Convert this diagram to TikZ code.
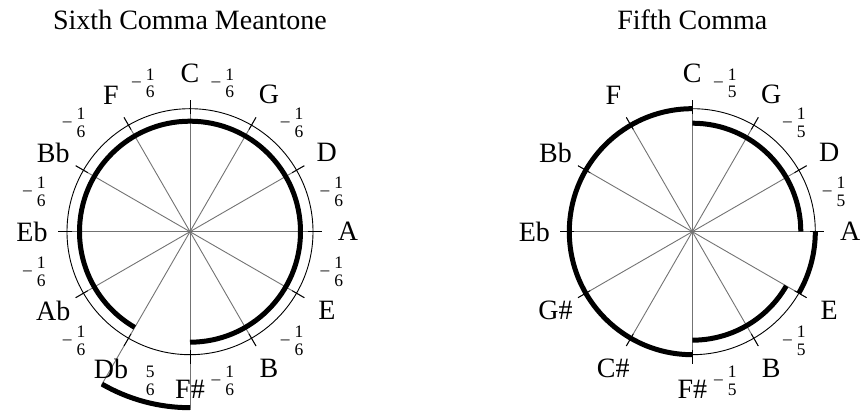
\documentclass[tikz,border=0pt]{standalone}
\usepackage{fontspec}
\setmainfont{Liberation Serif}
\newcommand\stk[2]{\begin{tabular}{@{}c@{}}#1\\#2\end{tabular}}
\newcommand\minusfr[2]{\llap{\raisebox{3pt}{\textendash}\hspace{5pt}}\stk{#1}{#2}}
\begin{document}
\begin{tikzpicture}[x=1pt,y=1pt,
  spoke/.style={draw=black!55, line width=0.9pt},
  tickmark/.style={draw=black, line width=0.9pt},
  ring/.style={draw=black, line width=0.9pt},
  thickarc/.style={draw=black, line width=5pt},
  note/.style={font=\fontsize{28}{28}\selectfont, inner sep=0pt},
  fracl/.style={font=\fontsize{17.5}{17.5}\selectfont, inner sep=0pt, yshift=-2.4pt},
  title/.style={font=\fontsize{28}{28}\selectfont, anchor=base, inner sep=0pt}]
\useasboundingbox (0,0) rectangle (864,411);
\coordinate (L) at (190,179.3);
\coordinate (R) at (692.3,179.3);

% titles
\node[title] (tL) at (190,381.5) {Sixth Comma Meantone};
\node[title] (tR) at (692.3,381.5) {Fifth Comma};

% ---------- left diagram ----------
\foreach \a/\len in {90/132,60/132,30/132,0/132,-30/132,-60/132,-90/178,-120/177,-150/132,180/132,150/132,120/132}{
  \draw[spoke] (L) -- ++(\a:\len);
  \draw[tickmark] ([shift={(\a:118)}]L) -- ([shift={(\a:132)}]L);
}
\draw[ring] (L) circle[radius=123];
\draw[thickarc] ([shift={(-90:110.5)}]L) arc[start angle=-90, end angle=240, radius=110.5];
\draw[thickarc] ([shift={(240:176)}]L) arc[start angle=240, end angle=270, radius=176];
\foreach \a/\n [count=\i] in {90/C,60/G,30/D,0/A,-30/E,-60/B,-90/F\#,-120/Db,-150/Ab,180/Eb,150/Bb,120/F}
  \node[note] (Ln\i) at ([shift={(\a:158)}]L) {\n};
\foreach \a [count=\i] in {75,45,15,-15,-45,-75,-135,-165,165,135,105}
  \node[fracl] (Lf\i) at ([shift={(\a:154)}]L) {\minusfr{1}{6}};
\node[fracl] (Lw) at ([shift={(-105:154)}]L) {\stk{5}{6}};

% ---------- right diagram ----------
\foreach \a in {90,60,30,0,-30,-60,-90,-120,-150,180,150,120}{
  \draw[spoke] (R) -- ++(\a:132);
  \draw[tickmark] ([shift={(\a:118)}]R) -- ([shift={(\a:132)}]R);
}
\draw[ring] (R) circle[radius=123];
\draw[thickarc] ([shift={(90:108.5)}]R) arc[start angle=90, end angle=0, radius=108.5];
\draw[thickarc] ([shift={(0:123)}]R) arc[start angle=0, end angle=-30, radius=123];
\draw[thickarc] ([shift={(-30:108.5)}]R) arc[start angle=-30, end angle=-90, radius=108.5];
\draw[thickarc] ([shift={(-90:123)}]R) arc[start angle=-90, end angle=-270, radius=123];
\foreach \a/\n [count=\i] in {90/C,60/G,30/D,0/A,-30/E,-60/B,-90/F\#,-120/C\#,-150/G\#,180/Eb,150/Bb,120/F}
  \node[note] (Rn\i) at ([shift={(\a:158)}]R) {\n};
\foreach \a [count=\i] in {75,45,15,-45,-75}
  \node[fracl] (Rf\i) at ([shift={(\a:154)}]R) {\minusfr{1}{5}};
\end{tikzpicture}
\end{document}
